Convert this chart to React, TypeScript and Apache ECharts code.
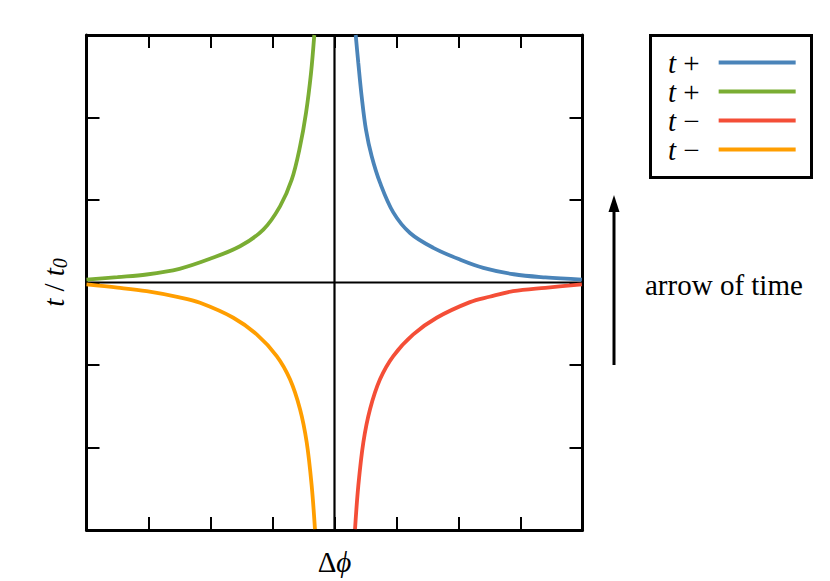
import React, { useEffect, useRef } from "react";
import * as echarts from "echarts";

// Δφ (x) and t/t0 (y) readings for each curve
const bluePlusX = [0.342, 0.384, 0.439, 0.508, 0.6, 0.734, 0.948, 1.218, 1.594, 2.05, 2.4, 2.89, 3.4, 3.99];
const bluePlusY = [3.0, 2.66, 2.25, 1.85, 1.53, 1.21, 0.85, 0.6, 0.42, 0.27, 0.178, 0.1, 0.062, 0.036];

const greenPlusX = [-4.0, -3.5, -3.03, -2.5, -2.008, -1.524, -1.148, -0.879, -0.69, -0.556, -0.46, -0.379, -0.326];
const greenPlusY = [0.036, 0.066, 0.097, 0.166, 0.287, 0.439, 0.641, 0.923, 1.246, 1.649, 2.053, 2.537, 3.0];

const redMinusX = [0.331, 0.384, 0.465, 0.573, 0.734, 0.948, 1.271, 1.648, 2.185, 2.5, 2.88, 3.4, 3.99];
const redMinusY = [-2.99, -2.464, -1.939, -1.536, -1.173, -0.891, -0.629, -0.427, -0.238, -0.173, -0.105, -0.064, -0.024];

const orangeMinusX = [-4.0, -3.5, -3.03, -2.5, -2.169, -1.632, -1.255, -0.932, -0.718, -0.556, -0.448, -0.368, -0.315];
const orangeMinusY = [-0.024, -0.062, -0.105, -0.18, -0.246, -0.427, -0.629, -0.891, -1.173, -1.536, -1.939, -2.464, -2.99];

const seriesNames = ["p1", "p2", "m1", "m2"];
const seriesColors = ["#4a84b9", "#7aad33", "#f44e37", "#ff9e00"];
const seriesX = [bluePlusX, greenPlusX, redMinusX, orangeMinusX];
const seriesY = [bluePlusY, greenPlusY, redMinusY, orangeMinusY];

const xMin = -4;
const xMax = 4;
const yMin = -3;
const yMax = 3;

const SERIF = "'Liberation Serif', 'Times New Roman', 'DejaVu Serif', serif";
const FS = 29;

export default function App() {
  const ref = useRef<HTMLDivElement>(null);

  useEffect(() => {
    if (!ref.current) return;
    const chart = echarts.init(ref.current, null, { renderer: "svg" });

    const axisCommon = {
      type: "value" as const,
      axisLine: { show: true, onZero: false, lineStyle: { color: "#000", width: 3 } },
      axisTick: { show: true, inside: true, length: 13, lineStyle: { color: "#000", width: 2 } },
      axisLabel: { show: false },
      splitLine: { show: false },
    };

    const curveSeries = seriesNames.map((n, i) => ({
      name: n,
      type: "line" as const,
      data: seriesX[i].map((x, j) => [x, seriesY[i][j]]),
      showSymbol: false,
      smooth: 0.35,
      lineStyle: { color: seriesColors[i], width: 3.8 },
      itemStyle: { color: seriesColors[i] },
      z: 3,
    }));

    const option: any = {
      animation: false,
      backgroundColor: "#fff",
      grid: { left: 86.5, top: 35, width: 496, height: 496 },
      xAxis: [
        {
          ...axisCommon,
          min: xMin,
          max: xMax,
          interval: 1,
          position: "bottom",
          name: "Δ{i|ϕ}",
          nameLocation: "middle",
          nameGap: 17,
          nameTextStyle: {
            fontFamily: SERIF,
            fontSize: FS,
            color: "#000",
            verticalAlign: "top",
            rich: { i: { fontFamily: SERIF, fontSize: FS, fontStyle: "italic", color: "#000" } },
          },
        },
        { ...axisCommon, min: xMin, max: xMax, interval: 1, position: "top" },
      ],
      yAxis: [
        {
          ...axisCommon,
          min: yMin,
          max: yMax,
          interval: 1,
          position: "left",
          name: "{i|t} / {i|t}{s|0}",
          nameLocation: "middle",
          nameGap: 17,
          nameRotate: 90,
          nameTextStyle: {
            fontFamily: SERIF,
            fontSize: FS,
            color: "#000",
            rich: {
              i: { fontFamily: SERIF, fontSize: FS, fontStyle: "italic", color: "#000" },
              s: { fontFamily: SERIF, fontSize: 20, fontStyle: "italic", color: "#000", verticalAlign: "bottom", padding: [11, 0, 0, 0] },
            },
          },
        },
        { ...axisCommon, min: yMin, max: yMax, interval: 1, position: "right" },
      ],
      legend: {
        data: seriesNames.map((n) => ({ name: n })),
        orient: "vertical",
        left: 668,
        top: 48,
        padding: 0,
        align: "right",
        icon: "rect",
        itemWidth: 77,
        itemHeight: 4,
        itemGap: 0,
        selectedMode: false,
        formatter: (name: string) => (name.charAt(0) === "p" ? "{i|t} +" : "{i|t} −"),
        textStyle: {
          fontFamily: SERIF,
          fontSize: FS,
          lineHeight: 29,
          color: "#000",
          padding: [0, 14, 0, 0],
          rich: {
            i: { fontFamily: SERIF, fontSize: FS, fontStyle: "italic", color: "#000" },
          },
        },
      },
      graphic: [
        {
          type: "rect",
          shape: { x: 650.5, y: 35.5, width: 161, height: 142 },
          style: { fill: "none", stroke: "#000", lineWidth: 3 },
          z: 10,
        },
        {
          type: "line",
          shape: { x1: 614, y1: 365, x2: 614, y2: 208 },
          style: { stroke: "#000", lineWidth: 3 },
        },
        {
          type: "polygon",
          shape: { points: [[614, 195], [608.5, 212], [619.5, 212]] },
          style: { fill: "#000" },
        },
        {
          type: "text",
          x: 645,
          y: 285,
          style: {
            text: "arrow of time",
            fontFamily: SERIF,
            fontSize: FS,
            fill: "#000",
            verticalAlign: "middle",
            align: "left",
          },
        },
      ],
      series: [
        {
          name: "zeroV",
          type: "line",
          data: [[0, yMin], [0, yMax]],
          showSymbol: false,
          lineStyle: { color: "#000", width: 2.2 },
          z: 2,
          silent: true,
        },
        {
          name: "zeroH",
          type: "line",
          data: [[xMin, 0], [xMax, 0]],
          showSymbol: false,
          lineStyle: { color: "#000", width: 2.2 },
          z: 2,
          silent: true,
        },
        ...curveSeries,
      ],
    };

    chart.setOption(option);
    return () => chart.dispose();
  }, []);

  return (
    <div
      ref={ref}
      style={{ position: "fixed", left: 0, top: 0, width: 830, height: 581 }}
    />
  );
}
